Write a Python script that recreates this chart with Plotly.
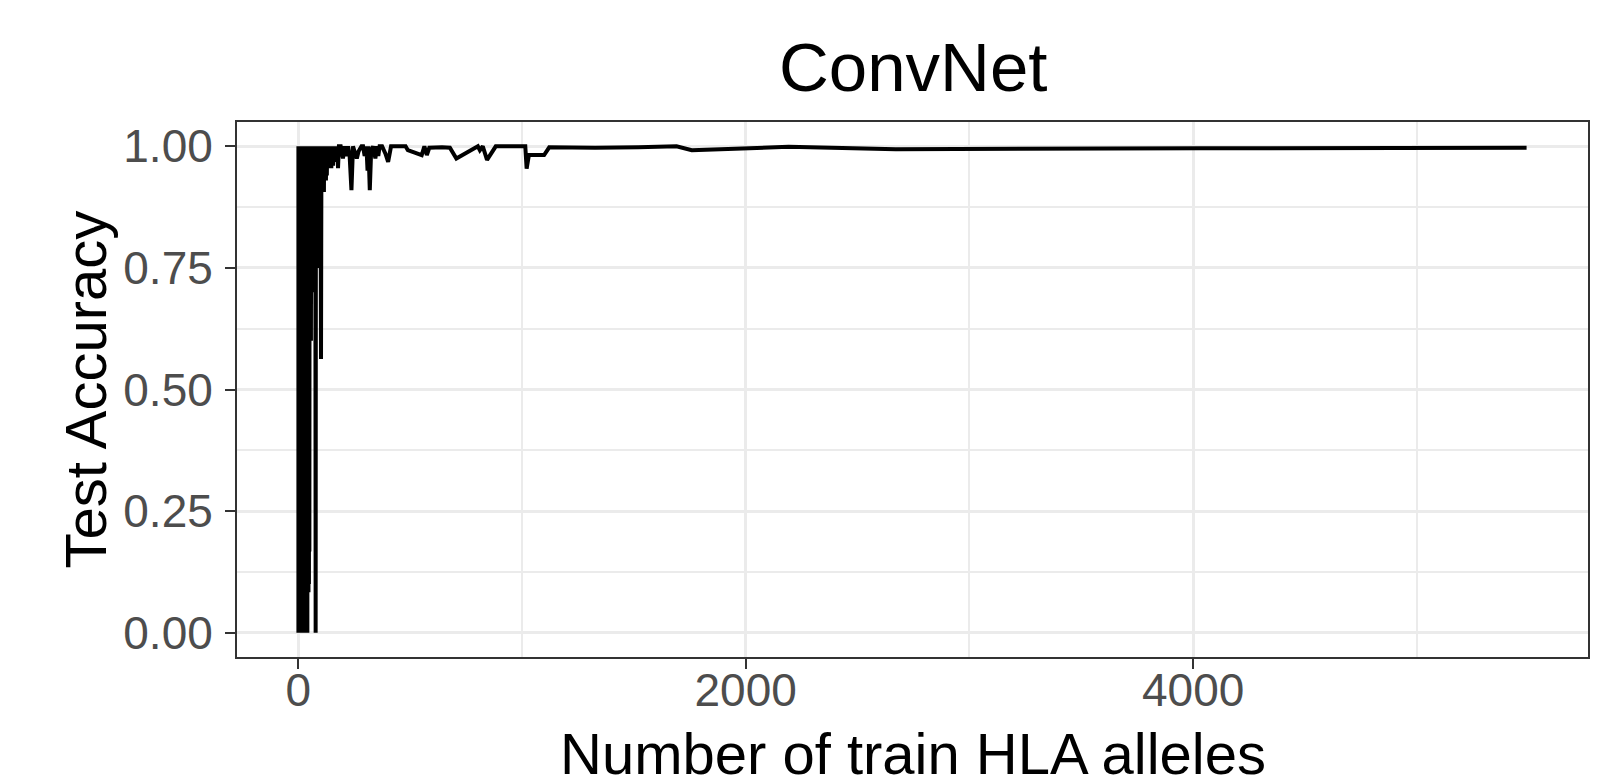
import plotly.graph_objects as go

# Number of train HLA alleles (x) and Test Accuracy (y)
x_alleles = [
    1, 1, 1, 2, 2, 2, 3, 3, 3, 4,
    4, 5, 5, 6, 6, 7, 7, 8, 8, 9,
    9, 10, 10, 11, 11, 12, 12, 13, 13, 14,
    14, 15, 15, 16, 16, 17, 17, 18, 18, 19,
    19, 20, 20, 21, 21, 22, 22, 23, 23, 24,
    24, 25, 25, 26, 26, 27, 27, 28, 28, 29,
    29, 30, 30, 31, 31, 32, 32, 33, 33, 34,
    34, 35, 35, 36, 36, 37, 37, 38, 38, 39,
    39, 40, 40, 41, 41, 42, 42, 43, 43, 44,
    44, 45, 46, 46, 47, 48, 48, 49, 50, 51,
    52, 53, 53, 54, 55, 55, 56, 57, 57, 58,
    59, 59, 60, 61, 61, 62, 63, 64, 65, 66,
    67, 68, 69, 70, 71, 72, 73, 74, 75, 76,
    77, 78, 79, 80, 81, 82, 83, 84, 85, 86,
    87, 88, 89, 90, 91, 92, 93, 94, 95, 96,
    97, 98, 99, 100, 101, 102, 103, 104, 105, 106,
    107, 108, 109, 110, 111, 112, 113, 114, 115, 116,
    117, 118, 120, 122, 124, 126, 128, 130, 133, 136,
    140, 144, 148, 152, 156, 160, 164, 168, 172, 176,
    178, 182, 190, 200, 208, 215, 223, 230, 238, 245,
    253, 262, 270, 283, 290, 297, 305, 310, 314, 320,
    326, 335, 345, 352, 358, 364, 375, 390, 402, 415,
    431, 480, 490, 552, 564, 575, 586, 643, 678, 707,
    803, 812, 825, 844, 883, 950, 1015, 1021, 1031, 1099,
    1122, 1327, 1520, 1691, 1759, 2192, 2671, 4033, 5490,
]
test_accuracy = [
    0, 1, 0, 1, 0, 1, 0, 1, 0.5, 1,
    0, 1, 0, 1, 0.5, 1, 0, 1, 0, 1,
    0, 1, 0.667, 1, 0, 1, 0, 1, 0.75, 1,
    0, 1, 0, 1, 0.6, 1, 0, 1, 0, 1,
    0.8, 1, 0, 1, 0.5, 1, 0, 1, 0, 1,
    0.75, 1, 0, 1, 0.667, 1, 0, 1, 0.8, 1,
    0, 1, 0.833, 1, 0, 1, 0.5, 1, 0, 1,
    0.75, 1, 0, 1, 0.857, 1, 0, 1, 0.6, 1,
    0, 1, 0.8, 1, 0, 1, 0.9, 1, 0.083, 1,
    0.2, 1, 0.083, 1, 0.25, 1, 0.1, 1, 0.167, 1,
    0.6, 1, 0.6, 1, 0.667, 1, 0.75, 1, 0.6, 1,
    0.8, 1, 0.7, 1, 0.75, 1, 0.8, 1, 0.833, 1,
    0.8, 1, 0.75, 1, 0.8, 1, 0.75, 1, 0.8, 1,
    0.75, 0, 0.8, 1, 0.75, 1, 0.8, 1, 0.75, 1,
    0.8, 1, 0.75, 1, 0.8, 1, 0.833, 1, 0.9, 1,
    0.9, 1, 0.92, 0.95, 0.75, 0.5625, 0.8, 1, 0.91, 1,
    0.906, 1, 0.92, 1, 0.906, 1, 0.92, 1, 0.906, 1,
    0.93, 1, 0.93, 1, 0.93, 1, 0.94, 1, 0.955, 1,
    0.955, 1, 0.955, 1, 0.96, 1, 0.968, 1, 0.968, 1,
    0.955, 1, 1, 0.975, 1, 0.98, 1, 0.98, 0.91, 1,
    0.988, 0.975, 0.99, 1, 1, 0.98, 1, 0.95, 1, 0.91,
    0.99, 1, 0.975, 1, 0.98, 1, 1, 0.985, 0.968, 1,
    1, 1, 0.992, 0.982, 1, 0.982, 0.997, 0.998, 0.997, 0.975,
    1, 0.992, 1, 0.972, 1, 1, 1, 0.954, 0.982, 0.982,
    0.998, 0.997, 0.998, 1, 0.992, 0.999, 0.994, 0.996, 0.997,
]
assert len(x_alleles) == len(test_accuracy)

x_ticks = [0, 2000, 4000]
x_minor = [1000, 3000, 5000]
y_ticks = [0.0, 0.25, 0.5, 0.75, 1.0]
y_minor = [0.125, 0.375, 0.625, 0.875]

title_text = "ConvNet"
x_title = "Number of train HLA alleles"
y_title = "Test Accuracy"

FONT = "Liberation Sans, Arial, Helvetica, sans-serif"
W, H = 1616, 783
ML, MR, MT, MB = 237, 28, 122, 126
PW, PH = W - ML - MR, H - MT - MB

xmin, xmax = min(x_alleles), max(x_alleles)
xs = xmax - xmin
ymin, ymax = 0.0, 1.0
ys = ymax - ymin

fig = go.Figure()
fig.add_trace(go.Scatter(
    x=x_alleles, y=test_accuracy, mode="lines",
    line=dict(color="black", width=4.0, simplify=False),
    hoverinfo="skip", showlegend=False,
))

grid = "#EBEBEB"
axis_common = dict(
    showline=True, mirror=True, linecolor="#333333", linewidth=2,
    ticks="outside", ticklen=10, tickwidth=2.2, tickcolor="#333333",
    tickfont=dict(family=FONT, size=46, color="#4D4D4D"),
    showgrid=True, gridcolor=grid, gridwidth=3.4,
    zeroline=False,
)
fig.update_xaxes(
    range=[xmin - 0.05 * xs, xmax + 0.05 * xs],
    tickmode="array", tickvals=x_ticks, ticktext=[str(v) for v in x_ticks],
    minor=dict(tickmode="array", tickvals=x_minor, showgrid=True,
               gridcolor=grid, gridwidth=1.7, ticks=""),
    ticklabelstandoff=-18,
    **axis_common,
)
fig.update_yaxes(
    range=[ymin - 0.05 * ys, ymax + 0.05 * ys],
    tickmode="array", tickvals=y_ticks, ticktext=[f"{v:.2f}" for v in y_ticks],
    minor=dict(tickmode="array", tickvals=y_minor, showgrid=True,
               gridcolor=grid, gridwidth=1.7, ticks=""),
    ticklabelstandoff=3,
    **axis_common,
)

def px_to_paper_y(py):
    return (H - MB - py) / PH

def px_to_paper_x(px):
    return (px - ML) / PW

fig.update_layout(
    width=W, height=H,
    margin=dict(l=ML, r=MR, t=MT, b=MB, pad=0),
    paper_bgcolor="white", plot_bgcolor="white",
    font=dict(family=FONT, color="black"),
    annotations=[
        dict(text=title_text, xref="paper", yref="paper",
             x=0.5, y=px_to_paper_y(68), xanchor="center", yanchor="middle",
             showarrow=False, font=dict(family=FONT, size=69, color="black")),
        dict(text=x_title, xref="paper", yref="paper",
             x=0.5, y=px_to_paper_y(753), xanchor="center", yanchor="middle",
             showarrow=False, font=dict(family=FONT, size=58, color="black")),
        dict(text=y_title, xref="paper", yref="paper",
             x=px_to_paper_x(85), y=0.5, xanchor="center", yanchor="middle",
             textangle=-90,
             showarrow=False, font=dict(family=FONT, size=58, color="black")),
    ],
)

fig.write_html("out.html")
